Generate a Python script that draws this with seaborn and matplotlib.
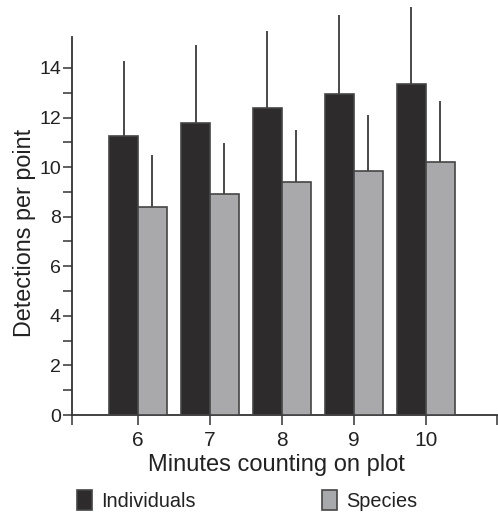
import numpy as np
import pandas as pd
import matplotlib
matplotlib.use("Agg")
import matplotlib.pyplot as plt
import seaborn as sns
from matplotlib.patches import Patch

minutes = ["6", "7", "8", "9", "10"]
individuals = [11.26, 11.79, 12.39, 12.95, 13.35]
individuals_err = [3.02, 3.13, 3.10, 3.18, 3.10]
species = [8.41, 8.93, 9.41, 9.86, 10.22]
species_err = [2.09, 2.05, 2.09, 2.24, 2.45]
groups = ["Individuals", "Species"]
colors = ["#2d2b2c", "#a8a9ac"]

df = pd.DataFrame({
    "minutes": minutes * 2,
    "value": individuals + species,
    "err": individuals_err + species_err,
    "group": [groups[0]] * 5 + [groups[1]] * 5,
})

sns.set_style("ticks")
plt.rcParams["font.family"] = ["Liberation Sans", "DejaVu Sans"]
ink = "#333333"
txt = "#222222"

fig = plt.figure(figsize=(4.98, 5.14), dpi=100)
ax = fig.add_axes([72 / 498, 1 - 415 / 514, 425 / 498, 378 / 514])

sns.barplot(data=df, x="minutes", y="value", hue="group", order=minutes,
            hue_order=groups, palette=colors, width=0.8, errorbar=None,
            edgecolor="#454545", linewidth=1.2, legend=False, ax=ax, zorder=3)

# one-sided error bars from bar tops
for bars, vals, errs in zip(ax.containers, [individuals, species], [individuals_err, species_err]):
    xs = [b.get_x() + b.get_width() / 2 for b in bars]
    ax.errorbar(xs, vals, yerr=[np.zeros(len(vals)), errs], fmt="none",
                ecolor="#3a3a3a", elinewidth=1.3, capsize=0, clip_on=False, zorder=2)

ax.set_xlim(-0.917, 4.99)
ax.set_ylim(0, 15.25)
ax.set_yticks(np.arange(0, 15, 2))
ax.set_yticks(np.arange(1, 15, 2), minor=True)
ax.set_xticks([-0.917, 4.99], minor=True)
ax.tick_params(axis="y", which="both", direction="out", length=6.5, width=1.1,
               color=ink, labelsize=14, pad=1.5, labelcolor=txt)
ax.tick_params(axis="x", which="both", direction="out", length=7.2, width=1.1,
               color=ink, labelsize=15, pad=4, labelcolor=txt)

for s in ["top", "right"]:
    ax.spines[s].set_visible(False)
for s in ["left", "bottom"]:
    ax.spines[s].set_color(ink)
    ax.spines[s].set_linewidth(1.3)

ax.set_xlabel("Minutes counting on plot", fontsize=17, color=txt)
ax.set_ylabel("Detections per point", fontsize=16.8, color=txt)
ax.xaxis.set_label_coords(0.482, -0.104)
ax.yaxis.set_label_coords(-0.085, 0.481)

handles = [Patch(facecolor=colors[0], edgecolor="#454545", linewidth=1.2),
           Patch(facecolor=colors[1], edgecolor="#454545", linewidth=1.2)]
fig.legend(handles, groups, loc="lower left", bbox_to_anchor=(0.1546, 0.006),
           ncol=2, frameon=False, fontsize=14.3, handlelength=0.75, handleheight=1.15,
           handletextpad=0.45, columnspacing=6.4, borderpad=0, borderaxespad=0,
           labelcolor=txt)

fig.savefig("out.png", dpi=100)
